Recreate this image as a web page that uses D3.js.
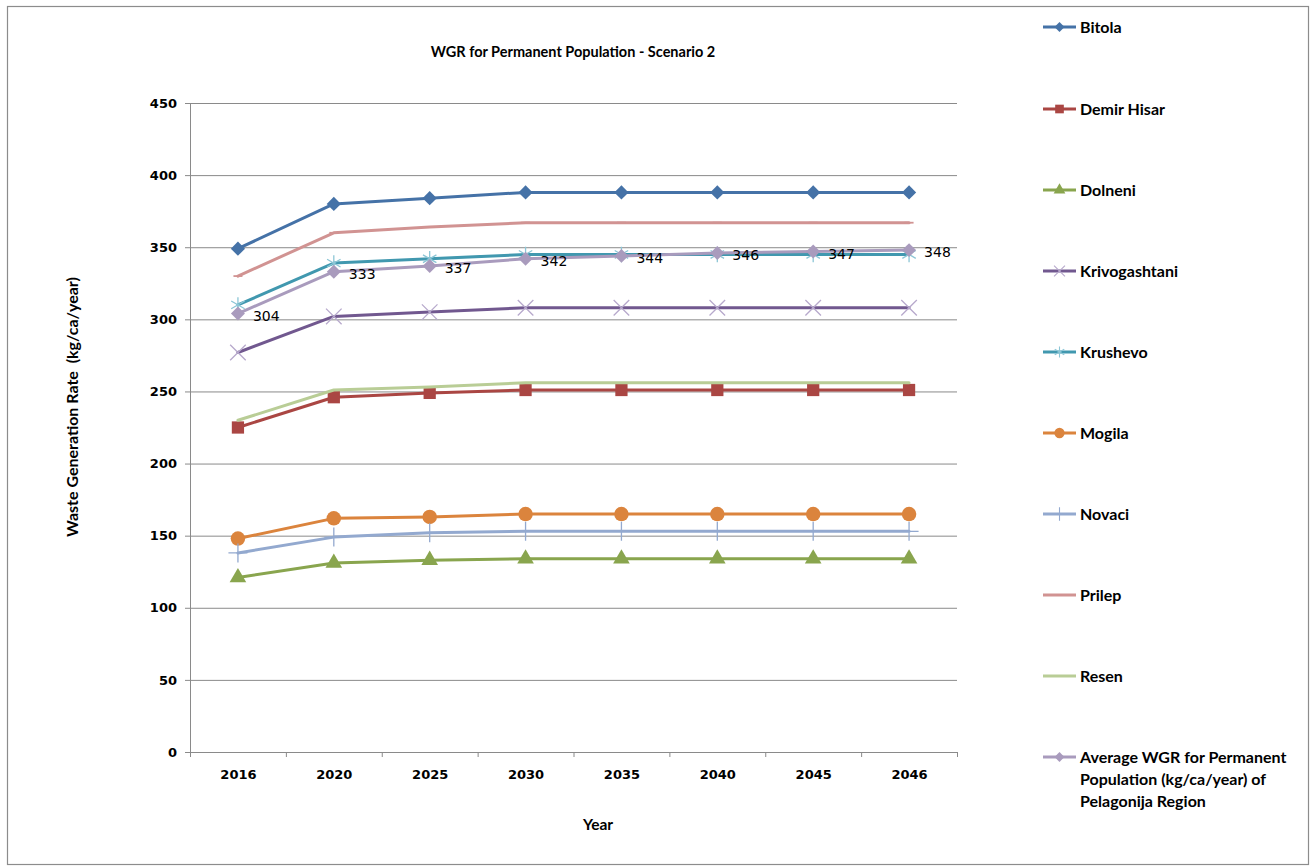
<!DOCTYPE html>
<html>
<head>
<meta charset="utf-8">
<script src="https://cdn.jsdelivr.net/npm/d3@7"></script>
<style>
  html, body { margin: 0; padding: 0; background: #ffffff; }
  svg { display: block; }
  text { font-family: "Lato", "Open Sans", sans-serif; fill: #000; }
</style>
</head>
<body>
<svg id="chart" width="1316" height="867"></svg>
<script>
// Waste generation rate per municipality, kg per capita per year
const years = ["2016", "2020", "2025", "2030", "2035", "2040", "2045", "2046"];
const bitola        = [349, 380, 384, 388, 388, 388, 388, 388];
const demirHisar    = [225, 246, 249, 251, 251, 251, 251, 251];
const dolneni       = [121, 131, 133, 134, 134, 134, 134, 134];
const krivogashtani = [277, 302, 305, 308, 308, 308, 308, 308];
const krushevo      = [310, 339, 342, 345, 345, 345, 345, 345];
const mogila        = [148, 162, 163, 165, 165, 165, 165, 165];
const novaci        = [138, 149, 152, 153, 153, 153, 153, 153];
const prilep        = [330, 360, 364, 367, 367, 367, 367, 367];
const resen         = [230, 251, 253, 256, 256, 256, 256, 256];
const average       = [304, 333, 337, 342, 344, 346, 347, 348];
const yTicks = [0, 50, 100, 150, 200, 250, 300, 350, 400, 450];

const seriesNames = ["Bitola", "Demir Hisar", "Dolneni", "Krivogashtani", "Krushevo",
  "Mogila", "Novaci", "Prilep", "Resen",
  "Average WGR for Permanent Population (kg/ca/year) of Pelagonija Region"];
const seriesValues = [bitola, demirHisar, dolneni, krivogashtani, krushevo,
  mogila, novaci, prilep, resen, average];

// Custom dash marker (short horizontal bar)
const symbolDash = {
  draw(ctx, size) {
    const w = Math.sqrt(size) * 0.9, h = Math.sqrt(size) * 0.18;
    ctx.moveTo(-w / 2, -h / 2); ctx.lineTo(w / 2, -h / 2);
    ctx.lineTo(w / 2, h / 2); ctx.lineTo(-w / 2, h / 2); ctx.closePath();
  }
};
// Square diamond (equal width and height)
const symbolRhomb = {
  draw(ctx, size) {
    const r = Math.sqrt(size) * 0.6;
    ctx.moveTo(0, -r); ctx.lineTo(r, 0); ctx.lineTo(0, r); ctx.lineTo(-r, 0); ctx.closePath();
  }
};

const styles = [
  { line: "#4572A7", marker: symbolRhomb, size: 140, fill: "#4572A7", stroke: null },
  { line: "#AA4643", marker: d3.symbolSquare, size: 150, fill: "#AA4643", stroke: null },
  { line: "#89A54E", marker: d3.symbolTriangle, size: 120, fill: "#89A54E", stroke: null },
  { line: "#71588F", marker: d3.symbolTimes, size: 160, fill: "none", stroke: "#B7A9CC" },
  { line: "#4198AF", marker: d3.symbolAsterisk, size: 170, fill: "none", stroke: "#8CC6D6" },
  { line: "#DB843D", marker: d3.symbolCircle, size: 165, fill: "#DB843D", stroke: null },
  { line: "#93A9CF", marker: d3.symbolPlus, size: 120, fill: "none", stroke: "#93A9CF" },
  { line: "#D19392", marker: symbolDash, size: 100, fill: "#D19392", stroke: null },
  { line: "#B9CD96", marker: null },
  { line: "#A99BBD", marker: symbolRhomb, size: 135, fill: "#A99BBD", stroke: null }
];

const svg = d3.select("#chart");

// Outer frame
svg.append("rect")
  .attr("x", 7.5).attr("y", 6.5).attr("width", 1301).attr("height", 858)
  .attr("fill", "#fff").attr("stroke", "#8c8c8c").attr("stroke-width", 1.2);

const plotLeft = 190, plotRight = 957, plotTop = 103, plotBottom = 752;

const x = d3.scalePoint().domain(years).range([plotLeft, plotRight]).padding(0.5);
const y = d3.scaleLinear().domain([0, 450]).range([plotBottom, plotTop]);
const xBounds = d3.scaleLinear().domain([0, years.length]).range([plotLeft, plotRight]);

// Horizontal gridlines
svg.append("g")
  .attr("transform", `translate(${plotLeft},0)`)
  .call(d3.axisLeft(y).tickValues(yTicks).tickSize(-(plotRight - plotLeft)).tickFormat(""))
  .call(g => g.select(".domain").remove())
  .call(g => g.selectAll("line").attr("stroke", "#8a8a8a").attr("stroke-width", 1));

// Y axis with labels
svg.append("g")
  .attr("transform", `translate(${plotLeft},0)`)
  .call(d3.axisLeft(y).tickValues(yTicks).tickSize(5).tickPadding(8))
  .call(g => g.select(".domain").attr("stroke", "#8a8a8a"))
  .call(g => g.selectAll("line").attr("stroke", "#8a8a8a"))
  .call(g => g.selectAll("text")
    .style("font-family", "DejaVu Sans, sans-serif")
    .attr("font-size", 13).attr("font-weight", "bold").attr("fill", "#000"));

// X axis: tick marks at category boundaries
svg.append("g")
  .attr("transform", `translate(0,${plotBottom})`)
  .call(d3.axisBottom(xBounds).ticks(years.length).tickSize(5).tickFormat(""))
  .call(g => g.select(".domain").attr("stroke", "#8a8a8a"))
  .call(g => g.selectAll("line").attr("stroke", "#8a8a8a"));

// X axis: category labels
svg.append("g")
  .attr("transform", `translate(0,${plotBottom})`)
  .call(d3.axisBottom(x).tickSize(0).tickPadding(18))
  .call(g => g.select(".domain").remove())
  .call(g => g.selectAll("text")
    .style("font-family", "DejaVu Sans, sans-serif")
    .attr("font-size", 13).attr("font-weight", "bold").attr("fill", "#000"));

// Title and axis titles
svg.append("text").attr("x", 573).attr("y", 57).attr("text-anchor", "middle")
  .attr("font-size", 14.5).attr("font-weight", "bold")
  .text("WGR for Permanent Population - Scenario 2");

svg.append("text").attr("x", 598).attr("y", 830).attr("text-anchor", "middle")
  .attr("font-size", 15.5).attr("font-weight", "bold").text("Year");

svg.append("text")
  .attr("transform", "translate(78,407) rotate(-90)")
  .attr("text-anchor", "middle").attr("font-size", 16).attr("font-weight", "bold")
  .style("white-space", "pre")
  .text("Waste Generation Rate  (kg/ca/year)");

// Series lines and markers
const line = d3.line().x((d, i) => x(years[i])).y(d => y(d));
const plot = svg.append("g");

seriesValues.forEach((vals, si) => {
  const st = styles[si];
  const g = plot.append("g");
  g.append("path").datum(vals)
    .attr("d", line).attr("fill", "none")
    .attr("stroke", st.line).attr("stroke-width", 3)
    .attr("stroke-linejoin", "round").attr("stroke-linecap", "round");
  if (st.marker) {
    g.selectAll("path.m").data(vals).join("path")
      .attr("class", "m")
      .attr("transform", (d, i) => `translate(${x(years[i])},${y(d)})`)
      .attr("d", d3.symbol(st.marker, st.size))
      .attr("fill", st.fill)
      .attr("stroke", st.stroke || "none")
      .attr("stroke-width", st.stroke ? 1.3 : 0);
  }
});

// Value labels on the regional average
plot.append("g").selectAll("text").data(average).join("text")
  .attr("x", (d, i) => x(years[i]) + 15)
  .attr("y", (d, i) => y(d) + 7)
  .style("font-family", "DejaVu Sans, sans-serif")
  .attr("font-size", 14).attr("fill", "#111")
  .text(d => d);

// Legend
const legendY = [27, 109, 190, 271, 352, 433, 514, 595, 676, 757];
const legend = svg.append("g");
seriesNames.forEach((name, si) => {
  const st = styles[si];
  const ly = legendY[si];
  const g = legend.append("g");
  g.append("line").attr("x1", 1043).attr("x2", 1076).attr("y1", ly).attr("y2", ly)
    .attr("stroke", st.line).attr("stroke-width", 3);
  if (st.marker) {
    g.append("path")
      .attr("transform", `translate(1059.5,${ly})`)
      .attr("d", d3.symbol(st.marker, st.size * 0.5))
      .attr("fill", st.fill)
      .attr("stroke", st.stroke || "none")
      .attr("stroke-width", st.stroke ? 1.1 : 0);
  }
  const t = g.append("text").attr("x", 1080).attr("y", ly + 5.5)
    .attr("font-size", 16).attr("font-weight", "bold");
  if (si === seriesNames.length - 1) {
    const parts = ["Average WGR for Permanent", "Population (kg/ca/year) of", "Pelagonija Region"];
    parts.forEach((p, k) => t.append("tspan").attr("x", 1080).attr("dy", k === 0 ? 0 : 22).text(p));
  } else {
    t.text(name);
  }
});
</script>
</body>
</html>
